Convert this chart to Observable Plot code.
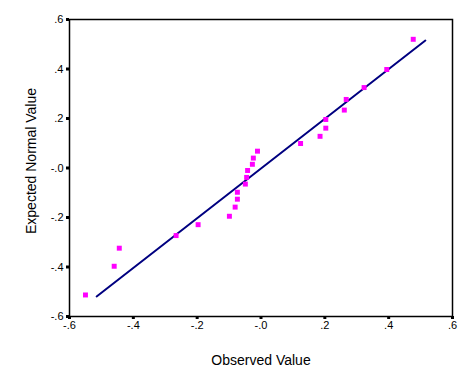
<!DOCTYPE html>
<html>
<head>
<meta charset="utf-8">
<script src="https://cdn.jsdelivr.net/npm/d3@7"></script>
<script src="https://cdn.jsdelivr.net/npm/@observablehq/plot@0.6"></script>
<style>
  body { margin: 0; background: #fff; }
  #chart svg { display: block; }
</style>
</head>
<body>
<div id="chart"></div>
<script>
// Observed vs expected normal values (Normal Q-Q plot)
const observed = [-0.550, -0.460, -0.444, -0.266, -0.197, -0.099, -0.081, -0.074, -0.074, -0.049,
                  -0.045, -0.042, -0.027, -0.024, -0.011, 0.124, 0.185, 0.203, 0.203, 0.261,
                  0.267, 0.323, 0.394, 0.477];
const expected = [-0.513, -0.397, -0.324, -0.273, -0.229, -0.195, -0.158, -0.126, -0.098, -0.065,
                  -0.038, -0.010, 0.015, 0.040, 0.068, 0.099, 0.128, 0.161, 0.196, 0.234,
                  0.277, 0.325, 0.398, 0.520];
const refLineX = [-0.515, 0.515];
const refLineY = [-0.519, 0.515];
const tickValues = [-0.6, -0.4, -0.2, 0, 0.2, 0.4, 0.6];
const tickLabels = ["-.6", "-.4", "-.2", "-.0", ".2", ".4", ".6"];
const xTitle = "Observed Value";
const yTitle = "Expected Normal Value";

const points = observed.map((x, i) => ({x, y: expected[i]}));
const lineData = refLineX.map((x, i) => ({x, y: refLineY[i]}));
const fmt = d => tickLabels[tickValues.findIndex(t => Math.abs(t - d) < 1e-9)];

const chart = Plot.plot({
  width: 472,
  height: 378,
  marginLeft: 69,
  marginRight: 20,
  marginTop: 19,
  marginBottom: 62,
  style: {fontFamily: "Arial, 'Liberation Sans', sans-serif", fontSize: "11px", color: "#000", background: "#fff"},
  x: {domain: [-0.6, 0.6]},
  y: {domain: [-0.6, 0.6]},
  marks: [
    Plot.frame({stroke: "#000", strokeWidth: 1.5}),
    Plot.axisX({ticks: tickValues, tickFormat: fmt, tickSize: 3, strokeWidth: 3, tickPadding: 2, label: null, fontSize: 11}),
    Plot.axisY({ticks: tickValues, tickFormat: fmt, tickSize: 3, strokeWidth: 3, tickPadding: 3, label: null, fontSize: 11}),
    Plot.line(lineData, {x: "x", y: "y", stroke: "#000080", strokeWidth: 2}),
    Plot.dot(points, {x: "x", y: "y", symbol: "square", r: 2.8, fill: "#ff00ff", stroke: "none"}),
    Plot.text([xTitle], {frameAnchor: "bottom", dy: 48, text: d => d, fontSize: 14, textAnchor: "middle"}),
    Plot.text([yTitle], {frameAnchor: "left", dx: -38, dy: -7, rotate: -90, text: d => d, fontSize: 14, textAnchor: "middle", lineAnchor: "middle"})
  ]
});
document.getElementById("chart").appendChild(chart);
</script>
</body>
</html>
